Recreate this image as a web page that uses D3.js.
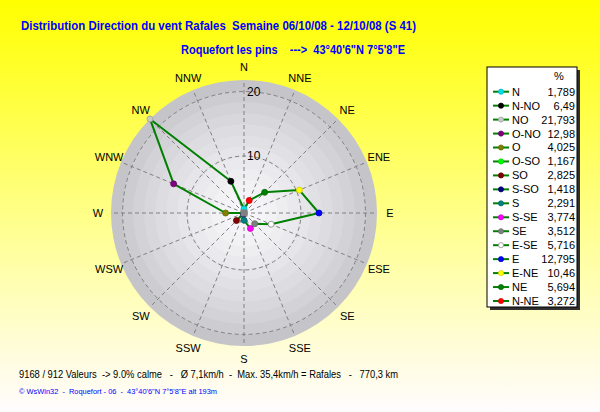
<!DOCTYPE html>
<html><head><meta charset="utf-8">
<script src="https://cdn.jsdelivr.net/npm/d3@7"></script>
<style>body{margin:0;padding:0;overflow:hidden}svg{display:block}text{white-space:pre}</style>
</head><body>
<svg id="chart" width="600" height="412"></svg>
<script>
// ---- data ----
const directions = ["N","N-NO","NO","O-NO","O","O-SO","SO","S-SO","S","S-SE","SE","E-SE","E","E-NE","NE","N-NE"];
const values = [1.789,6.49,21.793,12.98,4.025,1.167,2.825,1.418,2.291,3.774,3.512,5.716,12.795,10.46,5.694,3.272];
const valueLabels = ["1,789","6,49","21,793","12,98","4,025","1,167","2,825","1,418","2,291","3,774","3,512","5,716","12,795","10,46","5,694","3,272"];
const markerColors = ["#00E0F0","#000000","#C8C8C8","#800080","#808000","#00FF00","#800000","#000080","#008080","#FF00FF","#808080","#FFFFFF","#0000FF","#FFFF00","#008000","#FF0000"];
const compassLabels = ["N","NNE","NE","ENE","E","ESE","SE","SSE","S","SSW","SW","WSW","W","WNW","NW","NNW"];
const ringTicks = [10, 20];
const titleText = "Distribution Direction du vent Rafales  Semaine 06/10/08 - 12/10/08 (S 41)";
const subtitleText = "Roquefort les pins    --->  43°40'6\"N 7°5'8\"E";
const statsText = "9168 / 912 Valeurs  -> 9.0% calme   -   Ø 7,1km/h  -  Max. 35,4km/h = Rafales   -   770,3 km";
const footerText = "© WsWin32  -  Roquefort - 06  -  43°40'6\"N 7°5'8\"E alt 193m";

// ---- layout ----
const svg = d3.select("#chart");
const W = 600, H = 412;
const cx = 244, cy = 213, R = 133;
const defs = svg.append("defs");
const bg = defs.append("linearGradient").attr("id","bg").attr("x1",0).attr("y1",0).attr("x2",0).attr("y2",1);
bg.append("stop").attr("offset","0%").attr("stop-color","#FFFF00");
bg.append("stop").attr("offset","55%").attr("stop-color","#FFFF90");
bg.append("stop").attr("offset","100%").attr("stop-color","#FFFCFF");
svg.append("rect").attr("width",W).attr("height",H).attr("fill","url(#bg)");

const rScale = d3.scaleLinear().domain([d3.min(values), d3.max(values)]).range([0, R]);
const angleOf = i => -i * Math.PI / 8;           // legend order runs counter-clockwise
const compassAngle = i => i * Math.PI / 8;

const g = svg.append("g").attr("transform", `translate(${cx},${cy})`);

// stepped shading of the disk
const nBands = 12;
const shade = d3.interpolateRgb("#C4C4C9", "#F9F8FB");
d3.range(nBands).forEach(k => {
  g.append("circle").attr("r", R * (nBands - k) / nBands).attr("fill", shade(Math.pow(k / (nBands - 1), 0.75)));
});

// spokes
g.selectAll("line.spoke").data(compassLabels).join("line")
  .attr("class","spoke")
  .attr("x1",0).attr("y1",0)
  .attr("x2",(d,i)=>R*Math.sin(compassAngle(i)))
  .attr("y2",(d,i)=>-R*Math.cos(compassAngle(i)))
  .attr("stroke","#808080").attr("stroke-width",1).attr("stroke-dasharray","4,3");

// rings
g.selectAll("circle.ring").data(ringTicks).join("circle")
  .attr("class","ring").attr("r", d=>rScale(d)).attr("fill","none")
  .attr("stroke","#808080").attr("stroke-width",1).attr("stroke-dasharray","4,3");
g.selectAll("text.ringlbl").data(ringTicks).join("text")
  .attr("class","ringlbl").attr("x",3).attr("y",d=>-rScale(d)).attr("dy","0.36em")
  .attr("font-family","'Liberation Sans',Arial,sans-serif").attr("font-size",12)
  .attr("fill","#000").text(d=>d);

// compass labels
const labR = 146;
g.selectAll("text.comp").data(compassLabels).join("text")
  .attr("class","comp")
  .attr("x",(d,i)=>labR*Math.sin(compassAngle(i)))
  .attr("y",(d,i)=>-labR*Math.cos(compassAngle(i)))
  .attr("dy","0.36em").attr("text-anchor","middle")
  .attr("font-family","'Liberation Sans',Arial,sans-serif").attr("font-size",11)
  .attr("fill","#000").text(d=>d);

// data polygon
const line = d3.lineRadial().angle((d,i)=>angleOf(i)).radius(d=>rScale(d)).curve(d3.curveLinearClosed);
g.append("path").datum(values).attr("d",line).attr("fill","none")
  .attr("stroke","#008000").attr("stroke-width",2).attr("stroke-linejoin","round");

// markers
g.selectAll("circle.mk").data(values).join("circle")
  .attr("class","mk")
  .attr("cx",(d,i)=>rScale(d)*Math.sin(angleOf(i)))
  .attr("cy",(d,i)=>-rScale(d)*Math.cos(angleOf(i)))
  .attr("r",3)
  .attr("fill",(d,i)=>markerColors[i])
  .attr("stroke",(d,i)=>markerColors[i]==="#FFFFFF"?"#808080":d3.color(markerColors[i]).darker(0.6))
  .attr("stroke-width",0.8);

// calm marker at the centre
g.append("rect").attr("x",-3.5).attr("y",-3.5).attr("width",7).attr("height",7).attr("fill","#808080");

// titles
const txt = (x,y,s,opts) => {
  const t = svg.append("text").attr("x",x).attr("y",y).text(s)
    .attr("font-family",opts.family||"'Liberation Sans',Arial,sans-serif")
    .attr("font-size",opts.size).attr("fill",opts.color||"#000")
    .attr("font-weight",opts.weight||"normal");
  if (opts.len) t.attr("textLength",opts.len).attr("lengthAdjust","spacingAndGlyphs");
  if (opts.anchor) t.attr("text-anchor",opts.anchor);
  return t;
};
txt(21, 29.5, titleText, {family:"'Liberation Sans Narrow','Arial Narrow','Liberation Sans',sans-serif", size:13, weight:"bold", color:"#0000FF", len:395});
txt(181, 53.5, subtitleText, {family:"'Liberation Sans Narrow','Arial Narrow','Liberation Sans',sans-serif", size:13, weight:"bold", color:"#0000FF", len:224});
txt(19, 377.5, statsText, {size:11, len:379});
txt(19, 393.5, footerText, {size:8, color:"#0000FF", len:198});

// legend
const lx = 487, ly = 67, lw = 90, lh = 240;
svg.append("rect").attr("x",lx+3).attr("y",ly+3).attr("width",lw).attr("height",lh).attr("fill","#303030");
svg.append("rect").attr("x",lx).attr("y",ly).attr("width",lw).attr("height",lh).attr("fill","#FFFFFF").attr("stroke","#000").attr("stroke-width",1);
txt(559, 79.5, "%", {size:11, anchor:"middle"});
const rowY = d3.scaleLinear().domain([0, directions.length-1]).range([91.7, 301]);
const rows = svg.append("g").selectAll("g").data(directions).join("g")
  .attr("transform",(d,i)=>`translate(0,${rowY(i)})`);
rows.append("line").attr("x1",493).attr("x2",509).attr("y1",0).attr("y2",0).attr("stroke","#008000").attr("stroke-width",2);
rows.append("circle").attr("cx",501).attr("cy",0).attr("r",2.6)
  .attr("fill",(d,i)=>markerColors[i])
  .attr("stroke",(d,i)=>markerColors[i]==="#FFFFFF"?"#808080":d3.color(markerColors[i]).darker(0.6)).attr("stroke-width",0.7);
rows.append("text").attr("x",512).attr("y",0).attr("dy","0.36em")
  .attr("font-family","'Liberation Sans',Arial,sans-serif").attr("font-size",11).text(d=>d);
rows.append("text").attr("x",575).attr("y",0).attr("dy","0.36em").attr("text-anchor","end")
  .attr("font-family","'Liberation Sans',Arial,sans-serif").attr("font-size",11).text((d,i)=>valueLabels[i]);
</script>
</body></html>
